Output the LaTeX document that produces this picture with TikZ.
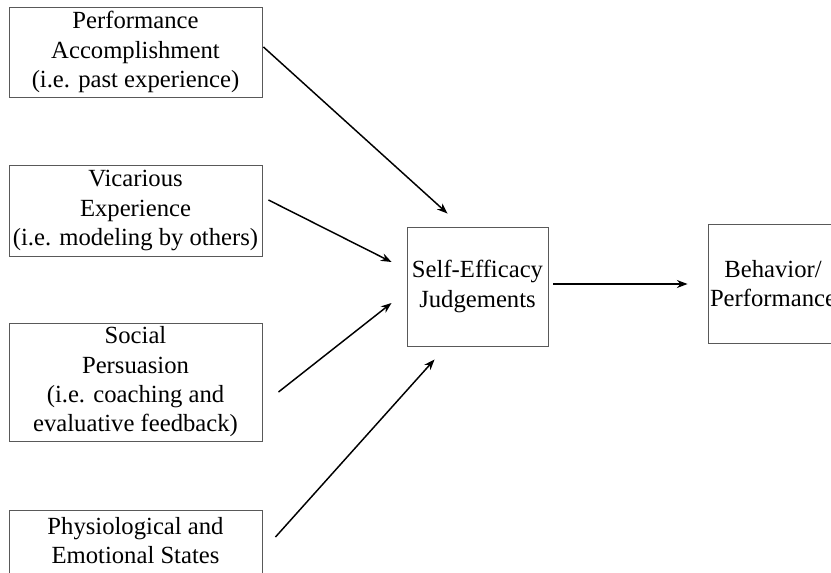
\documentclass[tikz,border=0pt]{standalone}
\usepackage{fontspec}
\setmainfont{Liberation Serif}
\usetikzlibrary{arrows.meta,calc}
\tikzset{
  srcbox/.style={rectangle, draw=black!65, line width=0.7pt,
                 minimum width=189.75pt, align=center, inner sep=1pt},
  midbox/.style={rectangle, draw=black!65, line width=0.7pt,
                 minimum width=105.75pt, minimum height=89.25pt,
                 align=center, inner sep=1pt},
  arr/.style={-{Stealth[length=8pt,width=6pt]}, line width=1.1pt, color=black},
}
\begin{document}
\begin{tikzpicture}[x=0.75pt,y=-0.75pt,font=\fontsize{18.5}{22}\selectfont]
    \clip (0,0) rectangle (831,572);
    % the four sources
    \node[srcbox, minimum height=67.5pt] (perf) at (135.5,52)
      {Performance\\Accomplishment\\(i.e. past experience)};
    \node[srcbox, minimum height=68.25pt] (vic) at (135.5,210.5)
      {Vicarious\\Experience\\(i.e. modeling by others)};
    \node[srcbox, minimum height=88.5pt] (soc) at (135.5,382)
      {Social\\Persuasion\\(i.e. coaching and\\evaluative feedback)};
    \node[srcbox, minimum height=67.5pt] (phys) at (135.5,555)
      {Physiological and\\Emotional States\\\mbox{}};
    % judgement and outcome
    \node[midbox] (se) at (477.5,286.5) {Self-Efficacy\\Judgements};
    \node[midbox, minimum width=97.5pt] (beh) at (773,283.5) {Behavior/\\Performance};
    % arrows
    \draw[arr] ($(perf.east)+(1,-5)$) -- ($(se.north west)+(41,-13)$);
    \draw[arr] ($(vic.east)+(6,-10.5)$) -- ($(se.west)+(-15,-24.5)$);
    \draw[arr] ($(soc.east)+(16,10)$) -- ($(se.west)+(-15,16.5)$);
    \draw[arr] ($(phys.east)+(13,-18)$) -- ($(se.south west)+(28,13)$);
    \draw[arr] ($(se.east)+(5,-2.5)$) -- ($(beh.west)+(-20,0.5)$);
\end{tikzpicture}
\end{document}
